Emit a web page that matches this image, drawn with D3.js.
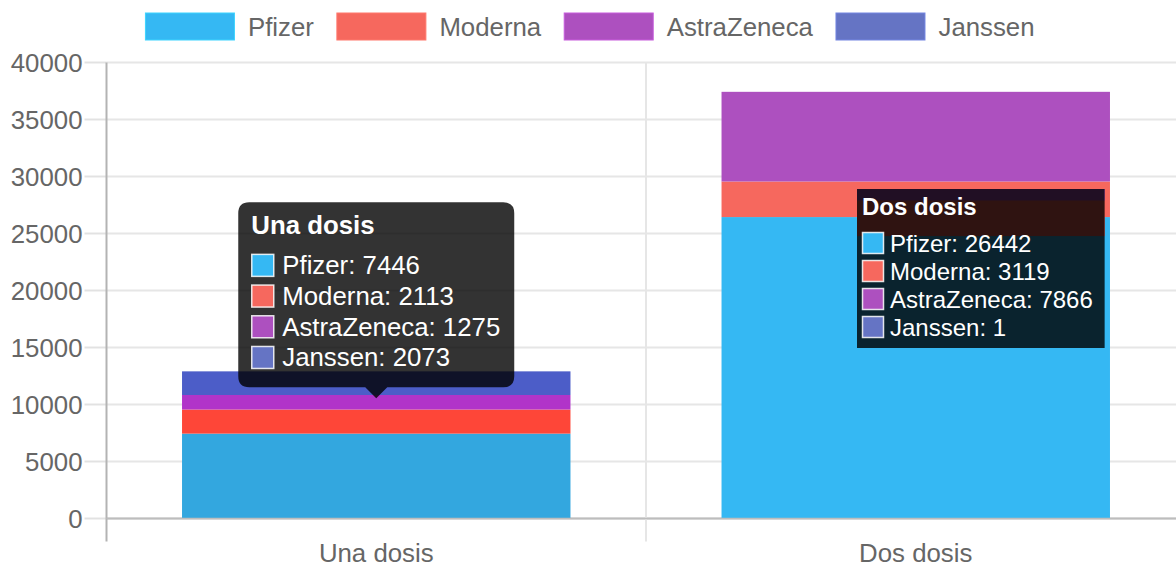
<!DOCTYPE html>
<html>
<head>
<meta charset="utf-8">
<script src="https://cdn.jsdelivr.net/npm/d3@7"></script>
<style>
  body { margin: 0; background: #fff; overflow: hidden; }
  svg { display: block; font-family: 'Liberation Sans', Arial, Helvetica, sans-serif; }
</style>
</head>
<body>
<svg id="chart" width="1176" height="568"></svg>
<script>
var categories = ['Una dosis', 'Dos dosis']
var vaccines = ['Pfizer', 'Moderna', 'AstraZeneca', 'Janssen']
var pfizer = [7446, 26442]
var moderna = [2113, 3119]
var astraZeneca = [1275, 7866]
var janssen = [2073, 1]
var yTicks = [0, 5000, 10000, 15000, 20000, 25000, 30000, 35000, 40000]

var colors = ['#35b8f3', '#f6685e', '#ad50bf', '#6574c4']
var hoverColors = ['#33a7df', '#fe4638', '#b134c9', '#4c5dc8']

var rows = categories.map((c, i) => ({
  cat: c,
  Pfizer: pfizer[i],
  Moderna: moderna[i],
  AstraZeneca: astraZeneca[i],
  Janssen: janssen[i]
}))

// canvas was 1186 wide, photo crops the right edge
var area = {left: 106.5, right: 1185.5, top: 62.5, bottom: 518.5}
var fs = 25.8

var svg = d3.select('#chart')

var x = d3.scaleBand().domain(categories).range([area.left, area.right])
var y = d3.scaleLinear().domain([0, 40000]).range([area.bottom, area.top])
var barW = x.bandwidth() * 0.72

var series = d3.stack().keys(vaccines)(rows)

// legend
var boxW = 89, boxGap = 13.5, itemPad = 23
var legend = svg.append('g')
var items = legend.selectAll('g').data(vaccines).join('g')
items.append('rect')
  .attr('width', boxW).attr('height', 27)
  .attr('fill', (d, i) => colors[i])
  .attr('stroke', (d, i) => d3.color(colors[i]).brighter(0.4))
  .attr('stroke-width', 1)
items.append('text')
  .attr('x', boxW + boxGap).attr('y', 13.5)
  .attr('dominant-baseline', 'central')
  .attr('fill', '#666').attr('font-size', fs)
  .text(d => d)

var widths = []
items.each(function(){ widths.push(boxW + boxGap + this.querySelector('text').getComputedTextLength()) })
var total = d3.sum(widths) + itemPad * (widths.length - 1)
var lx = 590 - total / 2
items.attr('transform', (d, i) => {
  var t = 'translate(' + lx + ',13)'
  lx += widths[i] + itemPad
  return t
})

// grid
var grid = svg.append('g')
grid.selectAll('line.h').data(yTicks).join('line')
  .attr('x1', area.left).attr('x2', area.right)
  .attr('y1', d => y(d)).attr('y2', d => y(d))
  .attr('stroke', d => d ? '#e6e6e6' : '#bdbdbd')
  .attr('stroke-width', 2)
grid.selectAll('line.t').data(yTicks).join('line')
  .attr('x1', area.left - 22).attr('x2', area.left)
  .attr('y1', d => y(d)).attr('y2', d => y(d))
  .attr('stroke', '#e2e2e2')
  .attr('stroke-width', 2)

var edges = categories.map(c => x(c)).concat([area.right])
grid.selectAll('line.v').data(edges).join('line')
  .attr('x1', d => d).attr('x2', d => d)
  .attr('y1', area.top).attr('y2', area.bottom + 23)
  .attr('stroke', (d, i) => i ? '#e6e6e6' : '#b3b3b3')
  .attr('stroke-width', 2)

svg.append('g').selectAll('text').data(yTicks).join('text')
  .attr('x', area.left - 24).attr('y', d => y(d))
  .attr('text-anchor', 'end').attr('dominant-baseline', 'central')
  .attr('fill', '#666').attr('font-size', fs)
  .text(d => d)

svg.append('g').selectAll('text').data(categories).join('text')
  .attr('x', d => x(d) + x.bandwidth() / 2).attr('y', 553)
  .attr('text-anchor', 'middle').attr('dominant-baseline', 'central')
  .attr('fill', '#666').attr('font-size', fs)
  .text(d => d)

// bars (first category is in hover state)
function drawBars(sel, hoverFirst){
  sel.selectAll('g').data(series).join('g')
    .selectAll('rect').data((s, k) => s.map(d => Object.assign([d[0], d[1]], {k, cat: d.data.cat})))
    .join('rect')
      .attr('x', d => x(d.cat) + (x.bandwidth() - barW) / 2)
      .attr('width', barW)
      .attr('y', d => y(d[1]))
      .attr('height', d => y(d[0]) - y(d[1]))
      .attr('fill', d => hoverFirst && d.cat == categories[0] ? hoverColors[d.k] : colors[d.k])
}
drawBars(svg.append('g'), true)

// redraw zero line over bars
svg.append('line')
  .attr('x1', area.left).attr('x2', area.right)
  .attr('y1', y(0)).attr('y2', y(0))
  .attr('stroke', '#bdbdbd').attr('stroke-width', 1.5)

// tooltip helper, returns the widest line's right edge
function tipLines(sel, i, f, pad, box, gap, step, titleY, firstY){
  var title = sel.append('text')
    .attr('x', pad).attr('y', titleY)
    .attr('dominant-baseline', 'central')
    .attr('fill', '#fff').attr('font-size', f).attr('font-weight', 'bold')
    .text(categories[i])
  var vals = [pfizer[i], moderna[i], astraZeneca[i], janssen[i]]
  var r = sel.selectAll('g.row').data(vaccines).join('g')
    .attr('transform', (d, k) => 'translate(' + pad + ',' + (firstY + k * step) + ')')
  r.append('rect')
    .attr('x', 0.5).attr('y', -box / 2 + 0.5)
    .attr('width', box - 1).attr('height', box - 1)
    .attr('fill', (d, k) => colors[k])
    .attr('stroke', 'rgba(255,255,255,0.85)').attr('stroke-width', 1.5)
  var labels = r.append('text')
    .attr('x', box + gap).attr('y', 0)
    .attr('dominant-baseline', 'central')
    .attr('fill', '#fff').attr('font-size', f)
    .text((d, k) => d + ': ' + vals[k])
  var w = pad + title.node().getComputedTextLength()
  labels.each(function(){ w = Math.max(w, pad + box + gap + this.getComputedTextLength()) })
  return w
}

// tooltip for Una dosis, with caret
var t1 = svg.append('g')
var bg1 = t1.append('path').attr('fill', 'rgba(0,0,0,0.8)')
var inner1 = t1.append('g')
var w1 = tipLines(inner1, 0, fs, 13, 23, 8, 30.7, 23, 63) + 14
var cx = x(categories[0]) + x.bandwidth() / 2
var tops = series.map(s => s[0][1])
var tipY = y(d3.mean(tops)) - 4
var h1 = 185, cs = 11, r1 = 11
var x0 = cx - w1 / 2, y0 = tipY - cs - h1
inner1.attr('transform', 'translate(' + x0 + ',' + y0 + ')')
bg1.attr('d', [
  'M', x0 + r1, y0, 'H', x0 + w1 - r1, 'Q', x0 + w1, y0, x0 + w1, y0 + r1,
  'V', y0 + h1 - r1, 'Q', x0 + w1, y0 + h1, x0 + w1 - r1, y0 + h1,
  'H', cx + cs, 'L', cx, y0 + h1 + cs, 'L', cx - cs, y0 + h1,
  'H', x0 + r1, 'Q', x0, y0 + h1, x0, y0 + h1 - r1,
  'V', y0 + r1, 'Q', x0, y0, x0 + r1, y0, 'Z'
].join(' '))

// tooltip for Dos dosis: square box, ghost of the bars underneath
var t2x = 857, t2y = 189, t2h = 159
var t2 = svg.append('g')
var clip = svg.append('defs').append('clipPath').attr('id', 'tip2clip')
var clipRect = clip.append('rect').attr('x', t2x).attr('y', t2y).attr('height', t2h)
var ghost = t2.append('g').attr('clip-path', 'url(#tip2clip)')
var shifted = ghost.append('g').attr('transform', 'translate(0,19)')
drawBars(shifted, false)
shifted.selectAll('rect').filter(d => d.cat == categories[0]).remove()
var dark = ghost.append('rect').attr('x', t2x).attr('y', t2y).attr('height', t2h).attr('fill', 'rgba(0,0,0,0.81)')
var inner2 = t2.append('g').attr('transform', 'translate(' + t2x + ',' + t2y + ')')
var w2 = Math.min(tipLines(inner2, 1, 24, 5, 22, 6, 28, 17, 54) + 12, 248)
clipRect.attr('width', w2)
dark.attr('width', w2)
</script>
</body>
</html>
